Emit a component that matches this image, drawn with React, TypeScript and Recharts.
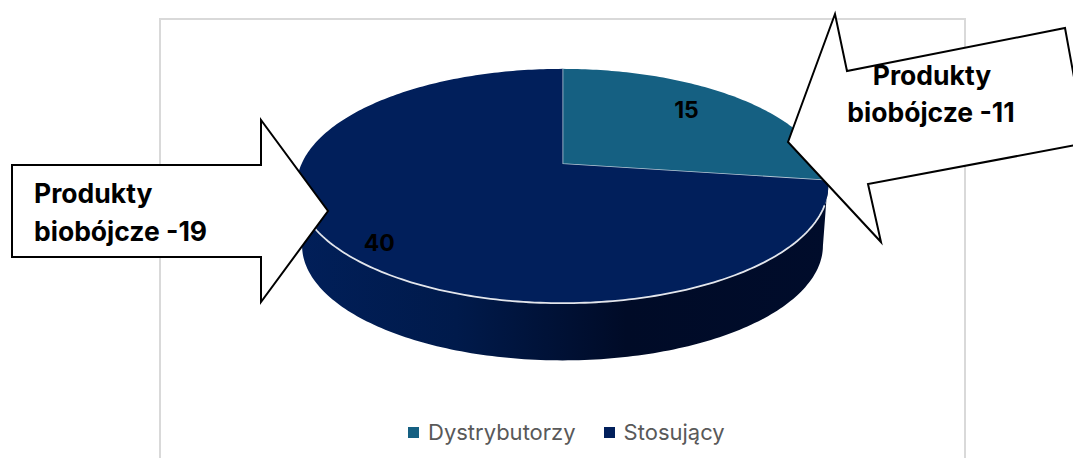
import React from 'react';
import { PieChart, Pie, Cell, Legend } from 'recharts';

const categories = ['Dystrybutorzy', 'Stosujący'];
const values = [15, 40];
const colors = ['#156082', '#011f5b'];
const leftCalloutLines = ['Produkty', 'biobójcze -19'];
const rightCalloutLines = ['Produkty', 'biobójcze -11'];

const chartData = categories.map((name, i) => ({ name, value: values[i] }));

const FONT = 'Inter, sans-serif';

// the pie is tilted: map an angle on the flat disc to the screen
const TILT = 0.433;
const PERSPECTIVE = 0.188;
const WALL_DROP = 60;
const WALL_SCALE = 0.98;

const project = (cx: number, cy: number, r: number, angle: number, scale = 1, drop = 0) => {
  const rad = (angle * Math.PI) / 180;
  const u = Math.cos(rad);
  const v = Math.sin(rad);
  const d = 1 + PERSPECTIVE * v;
  return {
    x: cx + (scale * r * u) / d,
    y: cy - (scale * r * TILT * v) / d + drop,
  };
};

const arcPoints = (cx: number, cy: number, r: number, from: number, to: number, scale = 1, drop = 0) => {
  const steps = Math.max(2, Math.ceil(Math.abs(to - from)));
  const pts: string[] = [];
  for (let i = 0; i <= steps; i++) {
    const p = project(cx, cy, r, from + ((to - from) * i) / steps, scale, drop);
    pts.push(`${p.x.toFixed(2)} ${p.y.toFixed(2)}`);
  }
  return pts;
};

const TiltedSlice = (props: any) => {
  const { cx, cy, outerRadius, startAngle, endAngle, fill, index } = props;
  const top = arcPoints(cx, cy, outerRadius, startAngle, endAngle);
  const topPath = `M ${cx} ${cy} L ${top.join(' L ')} Z`;

  if (index === 0) {
    // only the two straight edges get the light line
    const edges = `M ${top[0]} L ${cx} ${cy} L ${top[top.length - 1]}`;
    return (
      <g>
        <path d={topPath} fill={fill} />
        <path d={edges} fill="none" stroke="#b9c9d6" strokeWidth={1.6} strokeLinejoin="round" />
      </g>
    );
  }

  // angles of the front side of the pie, recharts runs them clockwise from the top
  const wallTop = arcPoints(cx, cy, outerRadius, -8, -172);
  const wallBottom = arcPoints(cx, cy, outerRadius, -172, -11, WALL_SCALE, WALL_DROP);
  const rim = arcPoints(cx, cy, outerRadius, -20, -160);

  return (
    <g>
      <path d={`M ${wallTop.join(' L ')} L ${wallBottom.join(' L ')} Z`} fill="url(#wallShade)" />
      <path d={topPath} fill={fill} />
      <path d={`M ${rim.join(' L ')}`} fill="none" stroke="#e3e6ec" strokeWidth={1.8} />
    </g>
  );
};

const labelSpots = [
  { radius: 0.76, turn: 4 },
  { radius: 0.86, turn: 4 },
];

const SliceLabel = (props: any) => {
  const { cx, cy, outerRadius, midAngle, value, index } = props;
  const spot = labelSpots[index];
  const p = project(cx, cy, outerRadius * spot.radius, midAngle + spot.turn);
  return (
    <text x={p.x} y={p.y} textAnchor="middle" dominantBaseline="central" fontFamily={FONT} fontSize={23} fontWeight={700} fill="#000">
      {value}
    </text>
  );
};

const LegendRow = ({ payload }: any) => (
  <div style={{ display: 'flex', alignItems: 'center', fontFamily: FONT, fontSize: 22, color: '#595959' }}>
    {(payload || []).map((item: any, i: number) => (
      <div key={item.value} style={{ display: 'flex', alignItems: 'center', marginRight: i === 0 ? 28 : 0 }}>
        <span style={{ width: 11, height: 11, background: item.color, marginRight: 9, display: 'inline-block' }} />
        <span>{item.value}</span>
      </div>
    ))}
  </div>
);

const CalloutText = ({ lines, x, y, anchor }: { lines: string[]; x: number[]; y: number[]; anchor: string }) => (
  <text fontFamily={FONT} fontSize={26.5} fontWeight={700} fill="#000" textAnchor={anchor}>
    {lines.map((line, i) => (
      <tspan key={line} x={x[i]} y={y[i]}>
        {line}
      </tspan>
    ))}
  </text>
);

export default function App() {
  return (
    <div style={{ position: 'fixed', left: 0, top: 0, width: 1073, height: 458, overflow: 'hidden', background: '#fff' }}>
      <PieChart width={1073} height={458} margin={{ top: 0, right: 0, bottom: 0, left: 0 }}>
        <defs>
          <linearGradient id="wallShade" x1="0" y1="0" x2="1" y2="0">
            <stop offset="0%" stopColor="#011f59" />
            <stop offset="30%" stopColor="#001a4b" />
            <stop offset="62%" stopColor="#000b27" />
            <stop offset="100%" stopColor="#000c2b" />
          </linearGradient>
        </defs>
        <rect x={160} y={19} width={805} height={470} fill="#fff" stroke="#d9d9d9" strokeWidth={2} />
        <Pie
          data={chartData}
          dataKey="value"
          nameKey="name"
          cx={562.5}
          cy={164}
          outerRadius={261}
          startAngle={90}
          endAngle={-270}
          stroke="none"
          shape={TiltedSlice}
          label={SliceLabel}
          labelLine={false}
          isAnimationActive={false}
        >
          {chartData.map((d, i) => (
            <Cell key={d.name} fill={colors[i]} />
          ))}
        </Pie>
        <Legend
          content={<LegendRow />}
          wrapperStyle={{ position: 'absolute', left: 408, top: 419, width: 'auto', height: 'auto' }}
        />
      </PieChart>
      {/* the callouts sit on top of the pie, recharts paints its series over plain children */}
      <svg width={1073} height={458} style={{ position: 'absolute', left: 0, top: 0 }}>
        <path d="M12 165 L261 165 L261 120 L328 211 L261 302 L261 257 L12 257 Z" fill="#fff" stroke="#000" strokeWidth={2} />
        <path
          d="M788 142 L835 14 L847 71 L1065 28 L1080 110 L1076 145 L868 184 L881 242 Z"
          fill="#fff"
          stroke="#000"
          strokeWidth={2}
        />
        <CalloutText lines={leftCalloutLines} x={[34, 34]} y={[203, 241]} anchor="start" />
        <CalloutText lines={rightCalloutLines} x={[932, 931]} y={[85, 122]} anchor="middle" />
      </svg>
    </div>
  );
}
